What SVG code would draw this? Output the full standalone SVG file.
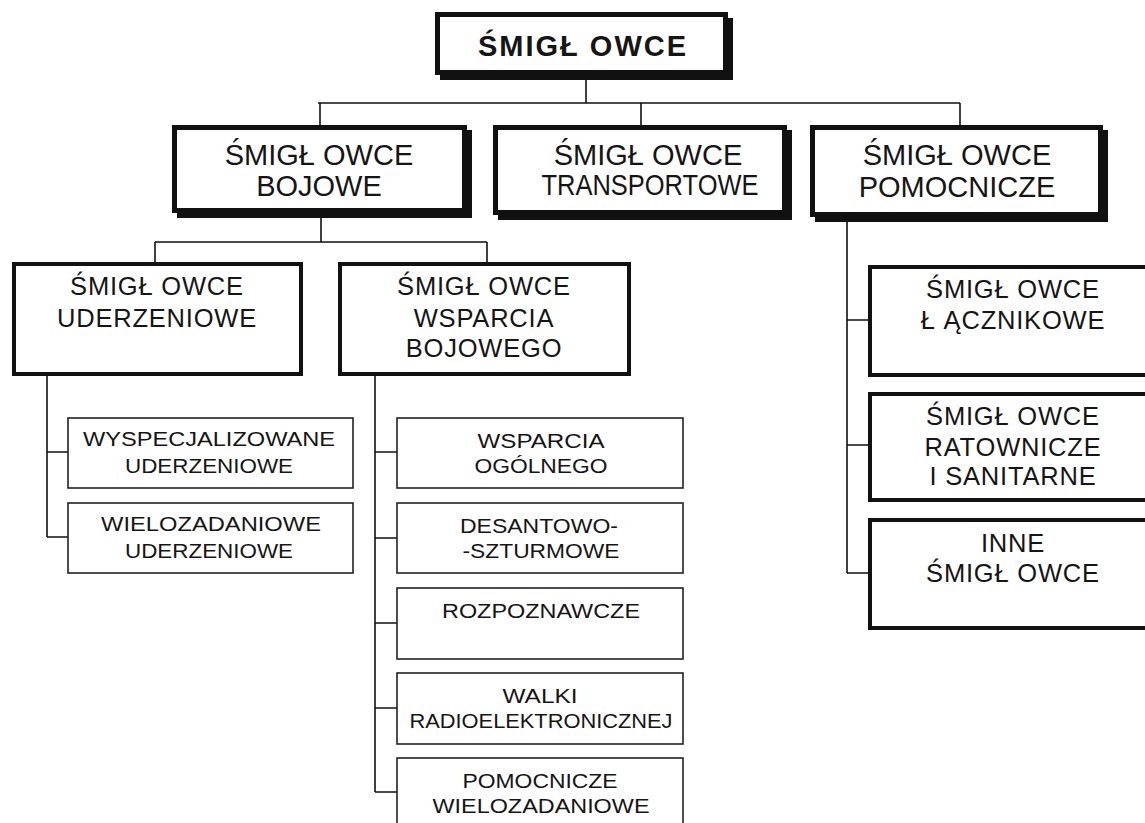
<svg xmlns="http://www.w3.org/2000/svg" width="1145" height="823" viewBox="0 0 1145 823">
<style>
.bg{fill:#ffffff}
.shadow{fill:#111111}
.b1{fill:#ffffff;stroke:#111111;stroke-width:5}
.b2{fill:#ffffff;stroke:#111111;stroke-width:4}
.b3{fill:#ffffff;stroke:#222222;stroke-width:1.6}
.conn{fill:none;stroke:#111111;stroke-width:1.6}
text{font-family:"Liberation Sans",Arial,sans-serif;fill:#151515;text-anchor:middle}
.t0{font-size:29px;font-weight:bold;letter-spacing:2px}
.t1{font-size:29px}
.t2{font-size:25.5px;letter-spacing:0.8px}
.t3{font-size:20.5px}
</style>
<rect class="bg" x="0" y="0" width="1145" height="823"/>
<g id="connectors">
<path class="conn" d="M586 75 V103 M318 103 H960 M320 103 V125 M641 103 V125 M960 103 V125"/>
<path class="conn" d="M321 215 V242 M155 242 H487 M155 242 V262 M487 242 V262"/>
<path class="conn" d="M47 375 V537 M47 452 H68 M47 537 H68"/>
<path class="conn" d="M375 375 V792 M375 452 H397 M375 538 H397 M375 623 H397 M375 708 H397 M375 792 H397"/>
<path class="conn" d="M847 219 V573 M847 320 H868 M847 445 H868 M847 573 H868"/>
</g>
<g id="root">
<rect class="shadow" x="440" y="18" width="293" height="62"/>
<rect class="b1" x="437.5" y="14.5" width="288" height="58"/>
<text class="t0" x="583" y="56">ŚMIGŁ OWCE</text>
</g>
<g id="bojowe">
<rect class="shadow" x="177" y="130" width="295" height="88"/>
<rect class="b1" x="174.5" y="127.5" width="290" height="83"/>
<text class="t1" x="319" y="165">ŚMIGŁ OWCE</text>
<text class="t1" x="319" y="196">BOJOWE</text>
</g>
<g id="transportowe">
<rect class="shadow" x="498" y="130" width="294" height="90"/>
<rect class="b1" x="495.5" y="127.5" width="289" height="85"/>
<text class="t1" x="648" y="165">ŚMIGŁ OWCE</text>
<text class="t1" x="650" y="195" textLength="217" lengthAdjust="spacingAndGlyphs">TRANSPORTOWE</text>
</g>
<g id="pomocnicze">
<rect class="shadow" x="815" y="130" width="293" height="92"/>
<rect class="b1" x="812.5" y="127.5" width="288" height="87"/>
<text class="t1" x="957" y="165">ŚMIGŁ OWCE</text>
<text class="t1" x="957" y="197">POMOCNICZE</text>
</g>
<g id="uderzeniowe">
<rect class="b2" x="14" y="264" width="287" height="110"/>
<text class="t2" x="157" y="295">ŚMIGŁ OWCE</text>
<text class="t2" x="157" y="327">UDERZENIOWE</text>
</g>
<g id="wsparcia-bojowego">
<rect class="b2" x="340" y="264" width="289" height="110"/>
<text class="t2" x="484" y="295">ŚMIGŁ OWCE</text>
<text class="t2" x="484" y="327">WSPARCIA</text>
<text class="t2" x="484" y="357">BOJOWEGO</text>
</g>
<g id="wyspecjalizowane">
<rect class="b3" x="68" y="418" width="285" height="70"/>
<text class="t3" x="209" y="446" textLength="252" lengthAdjust="spacingAndGlyphs">WYSPECJALIZOWANE</text>
<text class="t3" x="209" y="473" textLength="168" lengthAdjust="spacingAndGlyphs">UDERZENIOWE</text>
</g>
<g id="wielozadaniowe">
<rect class="b3" x="68" y="503" width="285" height="70"/>
<text class="t3" x="211" y="531" textLength="220" lengthAdjust="spacingAndGlyphs">WIELOZADANIOWE</text>
<text class="t3" x="209" y="558" textLength="168" lengthAdjust="spacingAndGlyphs">UDERZENIOWE</text>
</g>
<g id="wsparcia-ogolnego">
<rect class="b3" x="397" y="418" width="286" height="70"/>
<text class="t3" x="541" y="448" textLength="127" lengthAdjust="spacingAndGlyphs">WSPARCIA</text>
<text class="t3" x="541" y="473" textLength="133" lengthAdjust="spacingAndGlyphs">OGÓLNEGO</text>
</g>
<g id="desantowo">
<rect class="b3" x="397" y="503" width="286" height="70"/>
<text class="t3" x="539" y="533" textLength="158" lengthAdjust="spacingAndGlyphs">DESANTOWO-</text>
<text class="t3" x="541" y="558" textLength="157" lengthAdjust="spacingAndGlyphs">-SZTURMOWE</text>
</g>
<g id="rozpoznawcze">
<rect class="b3" x="397" y="588" width="286" height="71"/>
<text class="t3" x="541" y="618" textLength="198" lengthAdjust="spacingAndGlyphs">ROZPOZNAWCZE</text>
</g>
<g id="walki">
<rect class="b3" x="397" y="673" width="286" height="71"/>
<text class="t3" x="540" y="703" textLength="75" lengthAdjust="spacingAndGlyphs">WALKI</text>
<text class="t3" x="541" y="728" textLength="263" lengthAdjust="spacingAndGlyphs">RADIOELEKTRONICZNEJ</text>
</g>
<g id="pomocnicze-wielozadaniowe">
<rect class="b3" x="397" y="758" width="286" height="75"/>
<text class="t3" x="540" y="788" textLength="155" lengthAdjust="spacingAndGlyphs">POMOCNICZE</text>
<text class="t3" x="541" y="813" textLength="217" lengthAdjust="spacingAndGlyphs">WIELOZADANIOWE</text>
</g>
<g id="lacznikowe">
<rect class="b2" x="870" y="267" width="290" height="108"/>
<text class="t2" x="1013" y="298">ŚMIGŁ OWCE</text>
<text class="t2" x="1013" y="329">Ł ĄCZNIKOWE</text>
</g>
<g id="ratownicze">
<rect class="b2" x="870" y="394" width="290" height="106"/>
<text class="t2" x="1013" y="425">ŚMIGŁ OWCE</text>
<text class="t2" x="1013" y="456">RATOWNICZE</text>
<text class="t2" x="1013" y="485">I SANITARNE</text>
</g>
<g id="inne">
<rect class="b2" x="870" y="520" width="290" height="108"/>
<text class="t2" x="1013" y="552">INNE</text>
<text class="t2" x="1013" y="582">ŚMIGŁ OWCE</text>
</g>
</svg>
